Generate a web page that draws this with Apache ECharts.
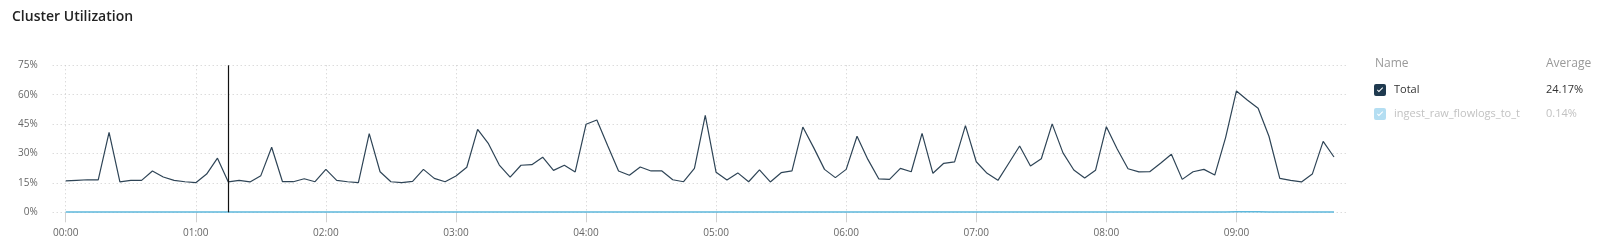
<!DOCTYPE html>
<html><head><meta charset="utf-8">
<script src="https://cdn.jsdelivr.net/npm/echarts@6/dist/echarts.min.js"></script>
<style>html,body{margin:0;padding:0;background:#fff}#c{width:1603px;height:246px}</style>
</head><body><div id="c"></div>
<script>
// ---- data ----
const chartTitle = 'Cluster Utilization';
const firstSampleTime = '00:00';
const sampleStepMinutes = 5;
const totalValues = [
  16.0,16.3,16.6,16.5,40.8,15.5,16.3,16.3,21.1,18.0,16.3,15.6,15.1,19.5,27.6,15.5,16.3,15.5,18.7,33.2,
  15.6,15.6,17.1,15.6,21.9,16.3,15.6,15.1,40.1,20.7,15.6,15.1,15.8,21.9,17.3,15.6,18.5,23.0,42.3,35.0,
  24.1,17.9,24.0,24.3,28.1,21.4,24.0,20.6,44.9,47.1,34.0,21.1,18.9,23.1,21.1,21.1,16.6,15.6,22.4,49.5,
  20.4,16.5,20.1,15.6,21.6,15.5,20.2,21.1,43.5,33.0,21.9,17.7,21.9,38.8,27.0,17.1,16.8,22.4,20.7,40.3,
  19.9,25.0,25.7,44.2,25.8,19.9,16.3,25.0,33.8,23.6,27.3,45.1,30.3,21.6,17.5,21.4,43.7,32.3,22.2,20.6,
  20.7,25.0,29.6,16.8,20.7,21.9,19.0,38.1,61.9,57.3,53.1,38.8,17.3,16.3,15.5,19.5,36.2,28.2
];
const ingestValues = [
  0.1,0.1,0.1,0.1,0.2,0.1,0.1,0.1,0.1,0.1,0.1,0.1,0.1,0.1,0.2,0.1,0.1,0.1,0.1,0.2,
  0.1,0.1,0.1,0.1,0.1,0.1,0.1,0.1,0.2,0.1,0.1,0.1,0.1,0.1,0.1,0.1,0.1,0.1,0.2,0.2,
  0.1,0.1,0.1,0.1,0.2,0.1,0.1,0.1,0.2,0.2,0.2,0.1,0.1,0.1,0.1,0.1,0.1,0.1,0.1,0.2,
  0.1,0.1,0.1,0.1,0.1,0.1,0.1,0.1,0.2,0.2,0.1,0.1,0.1,0.2,0.1,0.1,0.1,0.1,0.1,0.2,
  0.1,0.1,0.1,0.2,0.1,0.1,0.1,0.1,0.2,0.1,0.1,0.2,0.2,0.1,0.1,0.1,0.2,0.2,0.1,0.1,
  0.1,0.1,0.2,0.1,0.1,0.1,0.1,0.2,0.3,0.3,0.3,0.2,0.1,0.1,0.1,0.1,0.2,0.2
];
const seriesNames = ['Total', 'ingest_raw_flowlogs_to_t'];
const seriesAverages = ['24.17%', '0.14%'];
const legendHeaders = ['Name', 'Average'];
const hourLabels = ['00:00','01:00','02:00','03:00','04:00','05:00','06:00','07:00','08:00','09:00'];
const yTickValues = [0, 15, 30, 45, 60, 75];
const cursorTime = '01:15';

// ---- helpers ----
const toMin = s => { const [h, m] = s.split(':').map(Number); return h * 60 + m; };
const fmt = m => { const h = Math.floor(m / 60), mm = Math.round(m % 60); return String(h).padStart(2,'0') + ':' + String(mm).padStart(2,'0'); };
const t0 = toMin(firstSampleTime);
const pts = vals => vals.map((v, i) => [t0 + i * sampleStepMinutes, v]);
const hourTicks = hourLabels.map(toMin);

const FONT = '"Open Sans", "Noto Sans", sans-serif';
const checkIcon = 'path://M2,0H10Q12,0 12,2V10Q12,12 10,12H2Q0,12 0,10V2Q0,0 2,0Z' +
  'M3,6.2L4.9,8.2L9.1,4.0L8.4,3.3L4.9,6.8L3.7,5.5Z';

const colors = { total: '#2e4456', ingest: '#5db8dc' };
const legendColors = ['#1f3a4f', '#b4def2'];
const legendText = ['#333', '#c2c2c2'];

const chart = echarts.init(document.getElementById('c'), null, { renderer: 'canvas' });
chart.setOption({
  animation: false,
  title: { text: chartTitle, left: 7, top: 5,
    textStyle: { fontFamily: FONT, fontSize: 14, fontWeight: 600, color: '#222' } },
  grid: { left: 52.7, right: 256, top: 65.3, bottom: 33.7, containLabel: false },
  xAxis: {
    type: 'value', min: t0 - 6, max: t0 + 591,
    axisLine: { show: false },
    axisTick: { show: true, length: 10, lineStyle: { color: '#d0d0d0' }, customValues: hourTicks },
    axisLabel: { customValues: hourTicks, formatter: v => fmt(v), color: '#666', fontSize: 10, fontFamily: FONT, margin: 16 },
    splitLine: { show: true, lineStyle: { color: '#cccccc', type: [1, 3], width: 1 } }
  },
  yAxis: {
    type: 'value', min: 0, max: 75, interval: 15,
    axisLine: { show: false }, axisTick: { show: false },
    axisLabel: { formatter: v => v + '%', color: '#666', fontSize: 10, fontFamily: FONT, margin: 15 },
    splitLine: { show: true, lineStyle: { color: '#cccccc', type: [1, 3], width: 1 } }
  },
  legend: {
    orient: 'vertical', left: 1374, top: 84, padding: 0, itemWidth: 12, itemHeight: 12, itemGap: 12,
    selectedMode: false, icon: checkIcon,
    data: seriesNames.map((n, i) => ({ name: n, itemStyle: { color: legendColors[i], borderWidth: 0 },
      textStyle: { color: legendText[i] } })),
    formatter: name => '{n|' + name + '}{v|' + seriesAverages[seriesNames.indexOf(name)] + '}',
    textStyle: { fontFamily: FONT, fontSize: 11,
      rich: { n: { width: 152, padding: [0, 0, 0, 3], fontFamily: FONT, fontSize: 11 },
              v: { fontFamily: FONT, fontSize: 11 } } }
  },
  graphic: [
    { type: 'text', left: 1375, top: 58, style: { text: legendHeaders[0], fill: '#999', font: '12px ' + FONT } },
    { type: 'text', left: 1546, top: 58, style: { text: legendHeaders[1], fill: '#999', font: '12px ' + FONT } }
  ],
  series: [
    { name: seriesNames[0], type: 'line', data: pts(totalValues), showSymbol: false, z: 3,
      lineStyle: { color: colors.total, width: 1.2 }, itemStyle: { color: colors.total },
      markLine: { silent: true, symbol: 'none', label: { show: false },
        lineStyle: { color: '#111', type: 'solid', width: 1.2 },
        data: [{ xAxis: toMin(cursorTime) }] } },
    { name: seriesNames[1], type: 'line', data: pts(ingestValues), showSymbol: false, z: 2,
      lineStyle: { color: colors.ingest, width: 1.5 }, itemStyle: { color: colors.ingest } }
  ]
});
</script></body></html>
